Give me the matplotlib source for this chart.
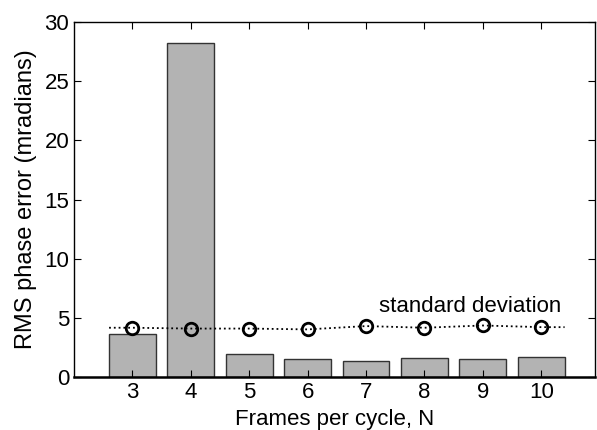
import matplotlib
matplotlib.use("Agg")
import matplotlib.pyplot as plt

plt.rcParams['font.family'] = ['Liberation Sans', 'DejaVu Sans']

# frames per cycle
frames = [3, 4, 5, 6, 7, 8, 9, 10]
# RMS phase error (mradians)
rms_error = [3.68, 28.2, 1.95, 1.55, 1.33, 1.64, 1.52, 1.74]
# standard deviation
std_dev = [4.17, 4.1, 4.1, 4.03, 4.31, 4.17, 4.36, 4.22]

fig = plt.figure(figsize=(5.97, 4.30), dpi=100)
ax = fig.add_axes([0.124, 0.123, 0.8726, 0.826])

ax.bar(frames, rms_error, width=0.8, color='#b3b3b3', edgecolor='#333333', linewidth=1.0)

# dotted line reaches out to the bar edges
line_x = [frames[0] - 0.4] + frames + [frames[-1] + 0.4]
line_y = [std_dev[0]] + std_dev + [std_dev[-1]]
ax.plot(line_x, line_y, color='black', linestyle=':', linewidth=1.3)
ax.plot(frames, std_dev, linestyle='none', marker='o', markersize=9,
        markerfacecolor='none', markeredgecolor='black', markeredgewidth=2)

ax.text(7.22, 5.5, 'standard deviation', fontsize=16)

ax.set_xlim(2, 10.92)
ax.set_ylim(0, 30)
ax.set_xticks(frames)
ax.set_yticks([0, 5, 10, 15, 20, 25, 30])
ax.tick_params(direction='in', top=True, right=True, length=5, labelsize=16)
for s in ax.spines.values():
    s.set_linewidth(1.0)
ax.spines['bottom'].set_linewidth(1.8)

ax.set_xlabel('Frames per cycle, N', fontsize=16, labelpad=4)
ax.set_ylabel('RMS phase error (mradians)', fontsize=17, labelpad=5)

fig.savefig('out.png', dpi=100)
